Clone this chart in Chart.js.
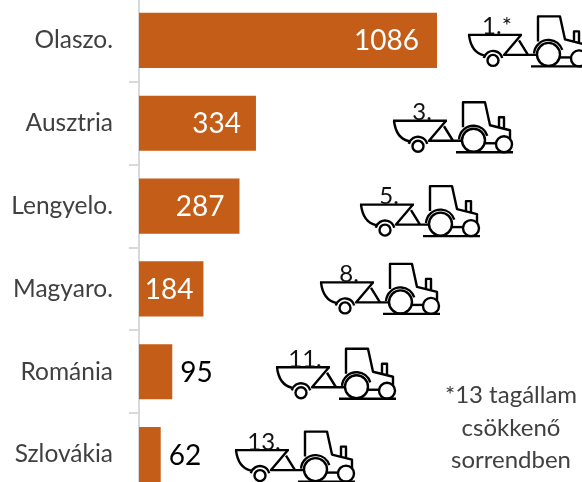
<!DOCTYPE html>
<html lang="hu">
<head>
    <meta charset="UTF-8">
    <title>Olasz. - Szlovákia</title>
    <script src="https://cdn.jsdelivr.net/npm/chart.js"></script>
    <style>
        html, body { margin: 0; padding: 0; background: #fff; }
        #wrap { position: relative; width: 582px; height: 482px; overflow: hidden; }
        #chart { position: absolute; left: 0; top: -2px; }
    </style>
</head>
<body>
    <div id="wrap"><canvas id="chart" width="582" height="499"></canvas></div>
    <script>
        const countries = ['Olaszo.', 'Ausztria', 'Lengyelo.', 'Magyaro.', 'Románia', 'Szlovákia'];
        const values = [1086, 334, 287, 184, 95, 62];
        const ranks = ['1.*', '3.', '5.', '8.', '11.', '13.'];
        const noteLines = ['*13 tagállam', 'csökkenő', 'sorrendben'];

        // the original bar for 1086 runs off its axis, so the axis stops short of it
        const axisMax = 851;
        const iconLeft = [468, 393, 360, 320, 276, 235];
        const iconDrop = [25, 28, 29, 24, 26, 26];
        const FONT = 'Lato, sans-serif';

        function drawTractor(ctx, x, ground, rank) {
            const top = ground - 50;
            const px = v => x + v;
            const py = v => top + v;
            ctx.save();
            ctx.strokeStyle = '#000';
            ctx.lineWidth = 2.4;
            ctx.lineJoin = 'round';

            // hopper
            ctx.beginPath();
            ctx.moveTo(px(0), py(19.5));
            ctx.lineTo(px(54), py(19.5));
            ctx.moveTo(px(1), py(19.5));
            ctx.quadraticCurveTo(px(3), py(37), px(16), py(40));
            ctx.moveTo(px(53), py(19.5));
            ctx.lineTo(px(36), py(39.5));
            ctx.lineTo(px(68), py(39.5));
            ctx.moveTo(px(51), py(25));
            ctx.lineTo(px(60), py(39.5));
            ctx.stroke();

            // trailer wheel and mudguard
            ctx.beginPath();
            ctx.arc(px(25), py(45), 5.5, 0, Math.PI * 2);
            ctx.stroke();
            ctx.beginPath();
            ctx.arc(px(25), py(45), 9.5, Math.PI * 1.08, Math.PI * 1.92);
            ctx.stroke();

            // cab, hood, exhaust
            ctx.beginPath();
            ctx.moveTo(px(70), py(26));
            ctx.lineTo(px(70), py(1));
            ctx.lineTo(px(92), py(1));
            ctx.lineTo(px(97), py(24));
            ctx.lineTo(px(117), py(29));
            ctx.lineTo(px(117), py(38));
            ctx.moveTo(px(106), py(26));
            ctx.lineTo(px(106), py(16));
            ctx.lineTo(px(111), py(16));
            ctx.lineTo(px(111), py(28));
            ctx.stroke();

            // tractor wheels, drawn white so they hide the body behind them
            ctx.fillStyle = '#fff';
            ctx.beginPath();
            ctx.arc(px(80.5), py(39), 11.5, 0, Math.PI * 2);
            ctx.fill();
            ctx.stroke();
            ctx.beginPath();
            ctx.arc(px(80.5), py(39), 14.5, Math.PI * 1.02, Math.PI * 1.9);
            ctx.stroke();
            ctx.beginPath();
            ctx.arc(px(111), py(43), 8, 0, Math.PI * 2);
            ctx.fill();
            ctx.stroke();
            ctx.beginPath();
            ctx.moveTo(px(92), py(42));
            ctx.lineTo(px(103), py(42));
            ctx.stroke();

            // ground
            ctx.beginPath();
            ctx.moveTo(px(63), py(51));
            ctx.lineTo(px(120), py(51));
            ctx.stroke();

            ctx.fillStyle = '#111';
            ctx.font = '24px ' + FONT;
            ctx.textAlign = 'center';
            ctx.textBaseline = 'alphabetic';
            ctx.fillText(rank, px(29), py(19));
            ctx.restore();
        }

        const extras = {
            id: 'extras',
            afterDraw(chart) {
                const ctx = chart.ctx;
                const area = chart.chartArea;
                const bars = chart.getDatasetMeta(0).data;

                bars.forEach((bar, i) => {
                    const end = Math.min(bar.x, area.right);
                    ctx.save();
                    ctx.font = '28px ' + FONT;
                    ctx.textBaseline = 'middle';
                    if (values[i] > 150) {
                        ctx.fillStyle = '#fff';
                        ctx.textAlign = 'right';
                        ctx.fillText(values[i], end - (values[i] > 1000 ? 18 : values[i] > 200 ? 15 : 10), bar.y + 1);
                    } else {
                        ctx.fillStyle = '#000';
                        ctx.textAlign = 'left';
                        ctx.fillText(values[i], end + 8, bar.y + 1);
                    }
                    ctx.restore();
                    drawTractor(ctx, iconLeft[i], bar.y + iconDrop[i], ranks[i]);
                });

                ctx.save();
                ctx.fillStyle = '#404040';
                ctx.font = '24px ' + FONT;
                ctx.textAlign = 'center';
                noteLines.forEach((line, i) => {
                    ctx.fillText(line, 511, 405 + i * 32.5);
                });
                ctx.restore();
            }
        };

        new Chart(document.getElementById('chart'), {
            type: 'bar',
            data: {
                labels: countries,
                datasets: [{
                    data: values,
                    backgroundColor: '#C35D17',
                    barPercentage: 1,
                    categoryPercentage: 0.667
                }]
            },
            options: {
                indexAxis: 'y',
                responsive: false,
                animation: false,
                layout: { padding: { right: 145, top: 1, bottom: 1 } },
                plugins: { legend: { display: false }, tooltip: { enabled: false } },
                scales: {
                    x: { display: false, min: 0, max: axisMax },
                    y: {
                        afterFit(scale) {
                            scale.width = 139;
                            scale.paddingTop = 0;
                            scale.paddingBottom = 0;
                        },
                        grid: {
                            offset: true,
                            drawOnChartArea: false,
                            color: '#d9d9d9',
                            lineWidth: 2,
                            tickLength: 10
                        },
                        border: { color: '#d9d9d9', width: 2 },
                        ticks: {
                            color: '#404040',
                            padding: 16,
                            font: { family: FONT, size: 24.5 }
                        }
                    }
                }
            },
            plugins: [extras]
        });
    </script>
</body>
</html>
